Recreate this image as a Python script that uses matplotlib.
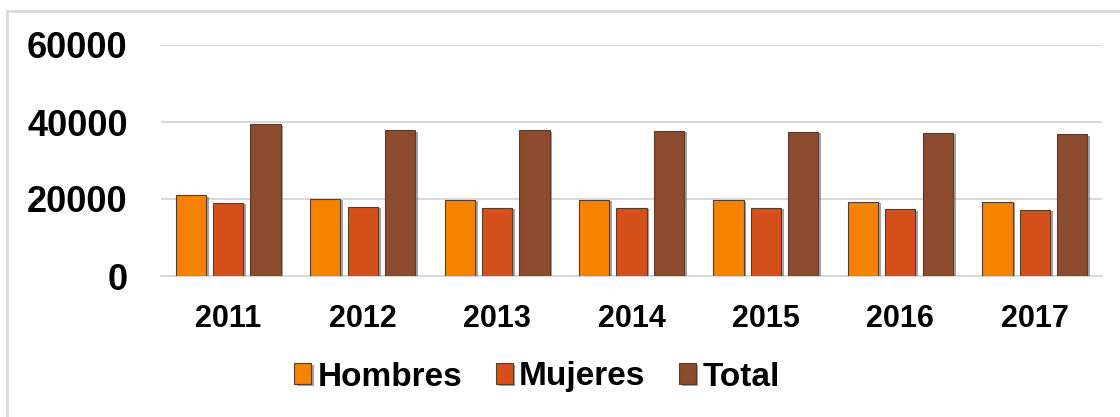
import matplotlib
matplotlib.use("Agg")
import matplotlib.pyplot as plt
import matplotlib.patheffects as pe
from matplotlib.lines import Line2D
import numpy as np

years = ["2011", "2012", "2013", "2014", "2015", "2016", "2017"]
hombres = [21000, 20100, 19750, 19750, 19700, 19300, 19250]
mujeres = [19050, 17900, 17700, 17700, 17650, 17300, 17250]
total = [39400, 37800, 37800, 37700, 37400, 37250, 36850]
y_ticks = [0, 20000, 40000, 60000]

series = [("Hombres", hombres, "#F58300"), ("Mujeres", mujeres, "#D3501B"), ("Total", total, "#8C4A2E")]

plt.rcParams['font.family'] = ['Liberation Sans', 'DejaVu Sans']

fig = plt.figure(figsize=(11.2, 4.17), dpi=100)
ax = fig.add_axes([161/1120, 1 - 276/417, (1102 - 161)/1120, (276 - 45)/417])

x = np.arange(len(years))
w = 0.225
step = 0.278
for i, (name, vals, col) in enumerate(series):
    bars = ax.bar(x + (i - 1) * step, vals, w, color=col, label=name,
                  edgecolor="#5a3a28", linewidth=0.8, zorder=3)
    for b in bars:
        b.set_path_effects([pe.SimplePatchShadow(offset=(2, -1), shadow_rgbFace="#666666", alpha=0.6), pe.Normal()])

ax.set_xlim(-0.5, 6.5)
ax.set_ylim(0, 60000)
ax.set_yticks(y_ticks)
ax.set_yticklabels([str(v) for v in y_ticks], fontsize=26, fontweight='bold')
ax.set_xticks(x)
ax.set_xticklabels(years, fontsize=22, fontweight='bold')
ax.tick_params(axis='both', length=0)
ax.tick_params(axis='y', pad=24)
ax.tick_params(axis='x', pad=20)
ax.grid(axis='y', color="#D9D9D9", linewidth=1.5, zorder=0)
for s in ["top", "right", "left"]:
    ax.spines[s].set_visible(False)
ax.spines["bottom"].set_color("#D9D9D9")
ax.spines["bottom"].set_linewidth(1.5)

leg = fig.legend(loc="center", bbox_to_anchor=(537/1120, 1 - 377/417), ncol=3,
                 frameon=False, prop={'size': 24, 'weight': 'bold'},
                 handlelength=0.5, handleheight=0.6, handletextpad=0.2, columnspacing=1.0)

# figure border (top and left visible)
fig.add_artist(Line2D([7/1120, 1], [1 - 11/417, 1 - 11/417], transform=fig.transFigure, color="#D9D9D9", linewidth=2))
fig.add_artist(Line2D([7/1120, 7/1120], [0, 1 - 11/417], transform=fig.transFigure, color="#D9D9D9", linewidth=2))

fig.savefig("out.png", dpi=100)
